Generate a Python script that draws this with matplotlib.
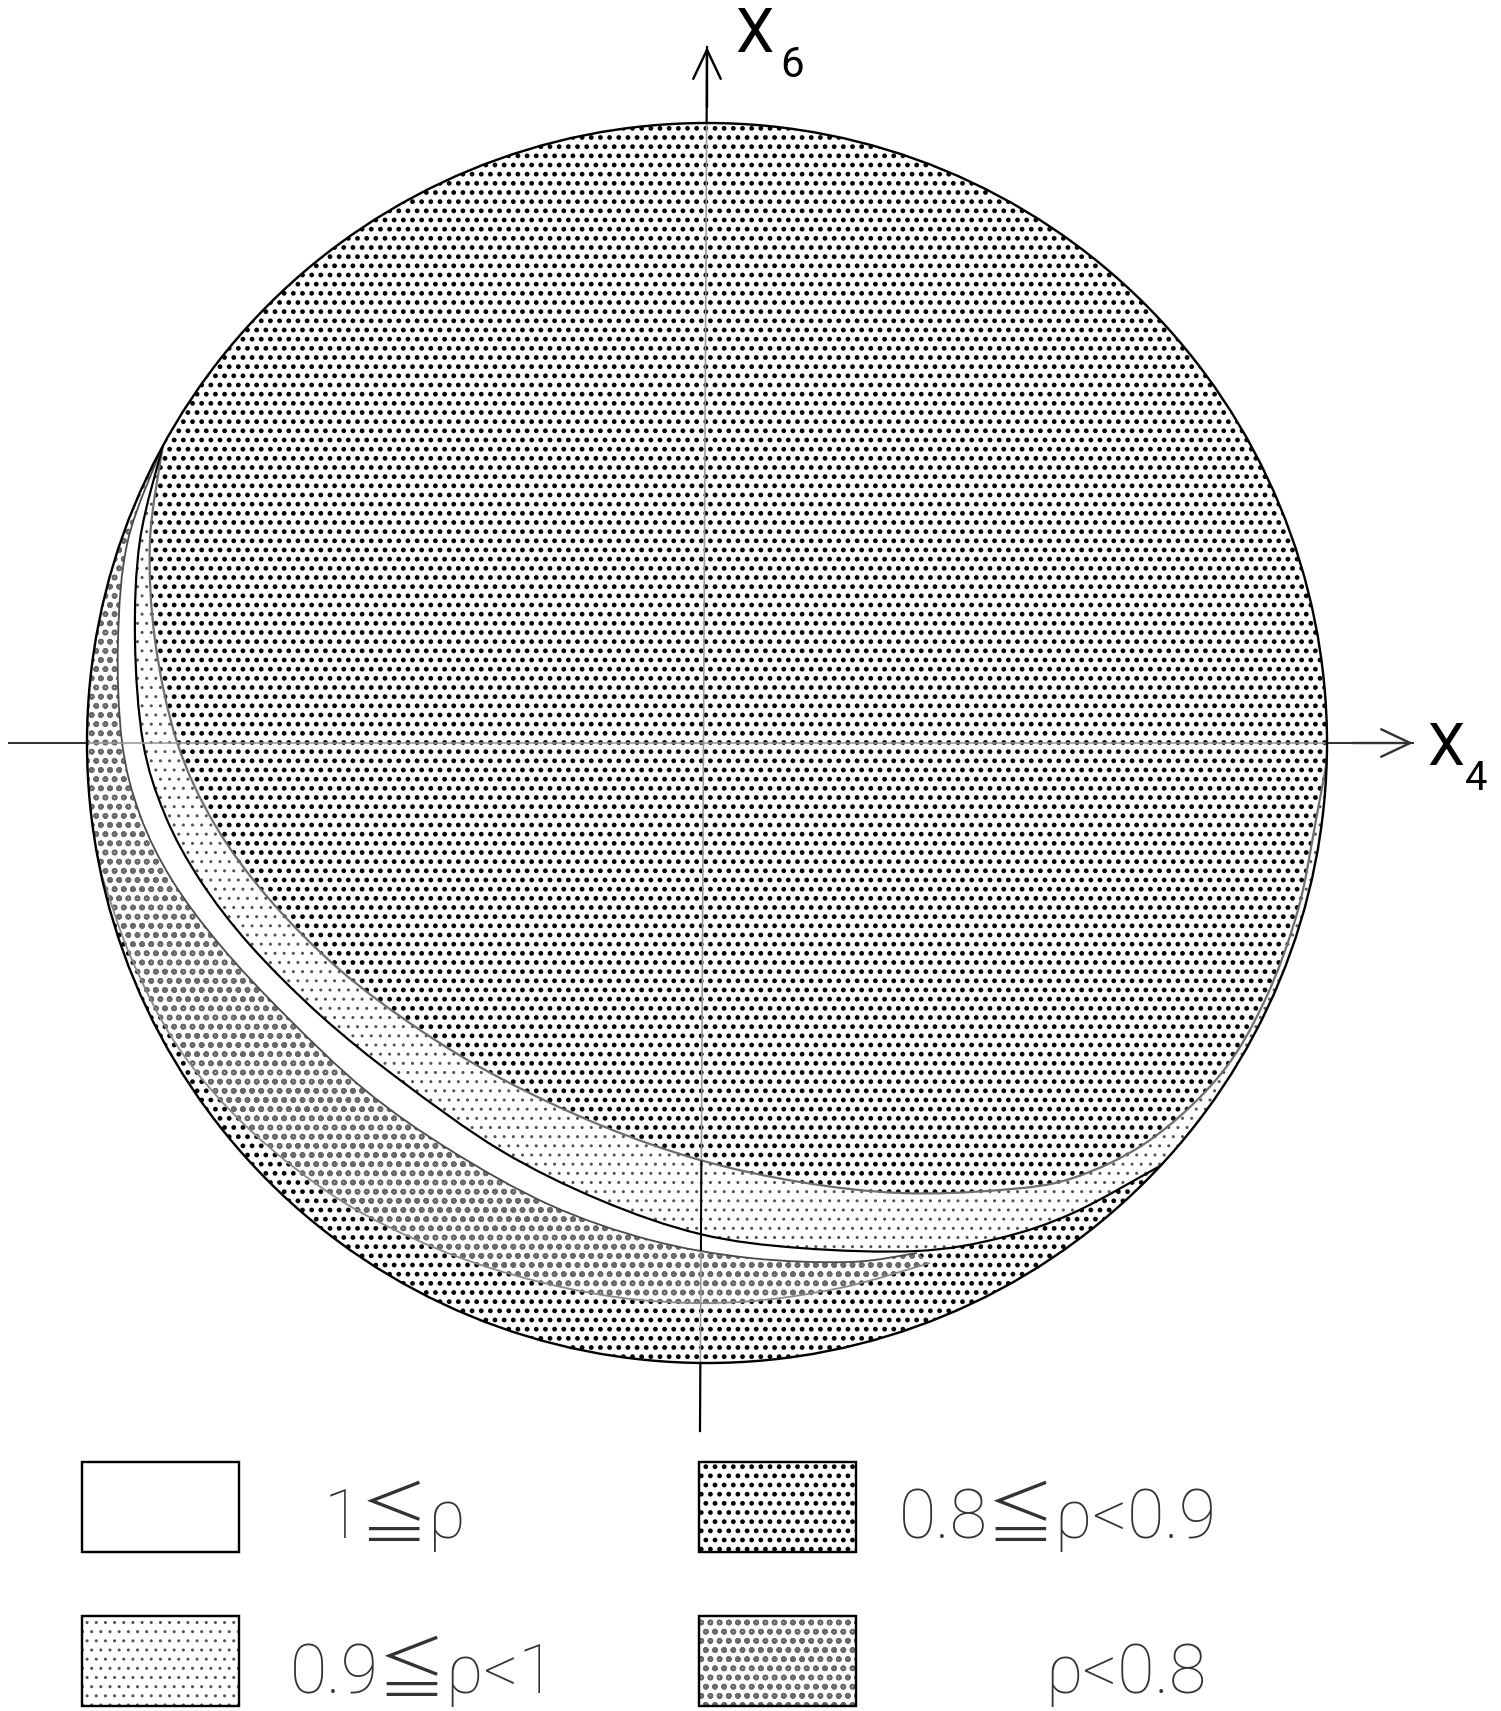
import numpy as np
import matplotlib
matplotlib.use("Agg")
import matplotlib.pyplot as plt
from matplotlib.path import Path
from matplotlib.patches import PathPatch, Circle, Rectangle

DPI = 110
W, H = 1501, 1711

# drawing is kept in picture pixels (y grows downward)
circle_center = (707, 743)
circle_radius = 620

axis_top = (707, 47)
axis_bottom = (700, 1431)
axis_left = (9, 743)
axis_right = (1413, 743)

# contour lines
line_c = [(163, 445), (150, 540), (155, 640), (177, 742), (215, 825), (270, 900),
          (340, 970), (420, 1030), (500, 1078), (600, 1125), (700, 1160), (800, 1182),
          (900, 1193), (1000, 1190), (1073, 1178), (1150, 1140), (1220, 1075),
          (1265, 1000), (1298, 910), (1316, 820), (1327, 760)]
line_w1 = [(163, 445), (140, 540), (135, 640), (143, 742), (165, 815), (200, 880),
           (250, 945), (320, 1015), (400, 1080), (500, 1150), (600, 1200), (700, 1234),
           (800, 1248), (917, 1251), (1000, 1238), (1073, 1213), (1160, 1166)]
line_w2 = [(163, 445), (128, 540), (118, 640), (122, 742), (140, 815), (172, 880),
           (220, 945), (285, 1015), (365, 1090), (450, 1150), (550, 1205), (650, 1240),
           (750, 1258), (850, 1262), (917, 1253)]
line_g = [(100, 870), (132, 960), (180, 1050), (250, 1130), (340, 1200), (440, 1250),
          (540, 1282), (640, 1300), (740, 1302), (840, 1288), (930, 1263)]

legend_labels = ["1≦ρ", "0.8≦ρ<0.9", "0.9≦ρ<1", "ρ<0.8"]
legend_keys = ["white", "p08", "light", "coarse"]
legend_box_x = [82, 699, 82, 699]
legend_box_y = [1462, 1462, 1616, 1616]
legend_text_x = [395, 1058, 423, 1126]
legend_text_y = [1538, 1538, 1693, 1693]

# hatch, dot colour, hatch linewidth
patterns = {
    "p08": ("..", "black", 1.9),
    "light": ("..", "#555555", 0.8),
    "coarse": ("oo", "#6a6a6a", 1.4),
    "white": ("", "black", 1.0),
}

plt.rcParams["hatch.linewidth"] = 1.9
txt_family = ["Roboto", "DejaVu Sans", "Noto Sans CJK JP"]


def px2pt(v):
    return v * 72.0 / DPI


def bezier(pts, first):
    p = np.asarray(pts, float)
    ext = np.vstack([p[0], p, p[-1]])
    verts, codes = [p[0]], [first]
    for i in range(1, len(ext) - 2):
        p0, p1, p2, p3 = ext[i - 1], ext[i], ext[i + 1], ext[i + 2]
        verts += [p1 + (p2 - p0) / 6, p2 - (p3 - p1) / 6, p2]
        codes += [Path.CURVE4] * 3
    return verts, codes


def region(*parts):
    verts, codes = [], []
    for k, (pts, smooth) in enumerate(parts):
        first = Path.MOVETO if k == 0 else Path.LINETO
        if smooth:
            v, c = bezier(pts, first)
        else:
            v = list(np.asarray(pts, float))
            c = [first] + [Path.LINETO] * (len(pts) - 1)
        verts += v
        codes += c
    verts.append(verts[0])
    codes.append(Path.CLOSEPOLY)
    return Path(verts, codes)


def styled(patch, key):
    hatch, color, lw = patterns[key]
    patch.set_facecolor("white")
    if hatch:
        patch.set_hatch(hatch)
        patch.set_edgecolor(color)
        if hasattr(patch, "set_hatch_linewidth"):
            patch.set_hatch_linewidth(lw)
    return patch


fig = plt.figure(figsize=(W / DPI, H / DPI), dpi=DPI)
ax = fig.add_axes([0, 0, 1, 1])
ax.set_xlim(0, W)
ax.set_ylim(H, 0)
ax.axis("off")

clip = Circle(circle_center, circle_radius, transform=ax.transData)

# axes lines (black outside the disc)
ax.plot([axis_top[0], axis_bottom[0]], [axis_top[1], axis_bottom[1]],
        color="black", lw=px2pt(2.2), zorder=1)
ax.plot([axis_left[0], axis_right[0]], [axis_left[1], axis_right[1]],
        color="#333333", lw=px2pt(2.0), zorder=1)

# base disc : 0.8 <= rho < 0.9
base = styled(Circle(circle_center, circle_radius, lw=0), "p08")
base.set_zorder(2)
ax.add_patch(base)

# rho < 0.8 crescent
g0 = line_g[0]
coarse_path = region((line_w2, True), (line_g[::-1], True),
                     ([(40, g0[1]), (40, 400), (line_w2[0][0], 400)], False))
coarse = styled(PathPatch(coarse_path, lw=0, zorder=3), "coarse")
ax.add_patch(coarse)
coarse.set_clip_path(clip)

# 1 <= rho crescent
w_end = line_w2[-1][0]
white_path = region((line_w2, True), ([p for p in line_w1 if p[0] <= w_end][::-1], True))
white = styled(PathPatch(white_path, lw=0, zorder=3), "white")
ax.add_patch(white)
white.set_clip_path(clip)

# 0.9 <= rho < 1 band
light_path = region((line_w1, True), ([(1450, 1250), (1450, line_c[-1][1])], False),
                    (line_c[::-1], True))
light = styled(PathPatch(light_path, lw=0, zorder=3), "light")
ax.add_patch(light)
light.set_clip_path(clip)

# contour lines
for pts, col, lw in [(line_c, "#6e6e6e", 2.2), (line_w1, "black", 2.2),
                     (line_w2, "#4a4a4a", 1.8), (line_g, "#8a8a8a", 1.8)]:
    v, c = bezier(pts, Path.MOVETO)
    lp = PathPatch(Path(v, c), fill=False, edgecolor=col, lw=px2pt(lw), zorder=4)
    ax.add_patch(lp)
    lp.set_clip_path(clip)

# axes inside the disc (grey), black across the white / light bands
for xs, ys in [([axis_top[0], axis_bottom[0]], [axis_top[1], axis_bottom[1]]),
               ([axis_left[0], axis_right[0]], [axis_left[1], axis_right[1]])]:
    ln, = ax.plot(xs, ys, color="#999999", lw=px2pt(1.6), zorder=5)
    ln.set_clip_path(clip)
for holder in (white, light):
    ln, = ax.plot([axis_top[0], axis_bottom[0]], [axis_top[1], axis_bottom[1]],
                  color="black", lw=px2pt(2.0), zorder=5)
    ln.set_clip_path(holder)

ax.add_patch(Circle(circle_center, circle_radius, fill=False, edgecolor="black",
                    lw=px2pt(2.4), zorder=6))

# arrow heads
arrow = dict(arrowstyle="->,head_length=0.95,head_width=0.45", color="black",
             lw=px2pt(2.4), shrinkA=0, shrinkB=0, mutation_scale=20)
ax.annotate("", xy=axis_top, xytext=(axis_top[0], axis_top[1] + 60),
            arrowprops=arrow, zorder=7)
ax.annotate("", xy=axis_right, xytext=(axis_right[0] - 60, axis_right[1]),
            arrowprops=dict(arrow, color="#333333"), zorder=7)

# axis names
ax.text(754, 52, "X", fontsize=px2pt(61), family=txt_family,
        ha="center", va="baseline", zorder=7)
ax.text(792, 77, "6", fontsize=px2pt(42), family=txt_family,
        ha="center", va="baseline", zorder=7)
ax.text(1446, 765, "X", fontsize=px2pt(59), family=txt_family,
        ha="center", va="baseline", zorder=7)
ax.text(1476, 790, "4", fontsize=px2pt(40), family=txt_family,
        ha="center", va="baseline", zorder=7)

# legend
for lab, key, bx, by, tx, ty in zip(legend_labels, legend_keys, legend_box_x,
                                    legend_box_y, legend_text_x, legend_text_y):
    box = styled(Rectangle((bx, by), 157, 90, lw=0, zorder=3), key)
    ax.add_patch(box)
    ax.add_patch(Rectangle((bx, by), 157, 90, fill=False, edgecolor="black",
                           lw=px2pt(2.4), zorder=4))
    ax.text(tx, ty, lab, fontsize=px2pt(68), family=txt_family, fontweight="light",
            color="#333333", ha="center", va="baseline", zorder=7)

fig.savefig("out.png", dpi=DPI, facecolor="white")
